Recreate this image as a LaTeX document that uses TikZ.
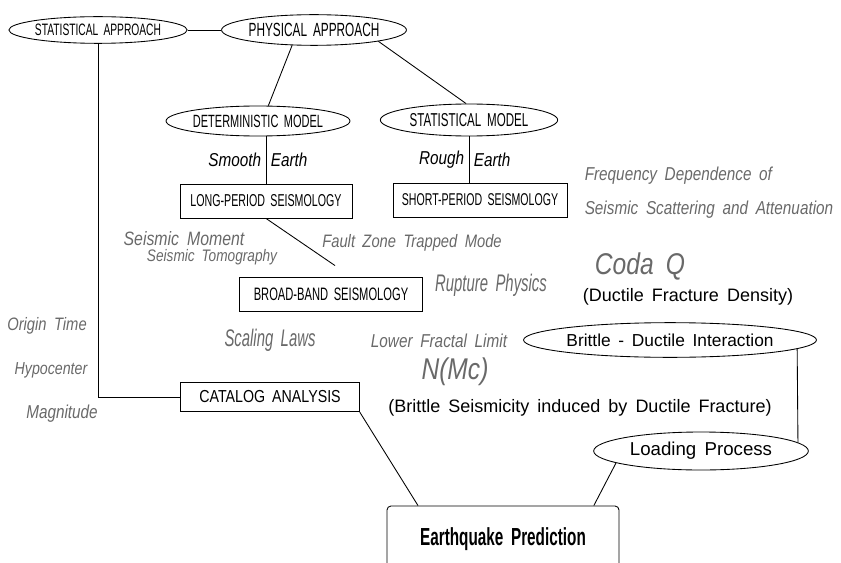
\documentclass[tikz,border=0pt]{standalone}
\usepackage{fontspec}
\setmainfont{Liberation Sans}[WordSpace=1.6]
\newfontfamily\narrowfont{Liberation Sans}[FakeStretch=0.62, WordSpace=1.8]
\newfontfamily\midfont{Liberation Sans}[FakeStretch=0.82, WordSpace=1.8]
\newcommand{\txtsize}[1]{\fontsize{#1}{#1}\selectfont}
\usepackage{tikz}
\usetikzlibrary{shapes.geometric, calc}
\definecolor{notegray}{RGB}{105,105,105}

\begin{document}
\begin{tikzpicture}[x=0.75pt, y=-0.75pt, line width=0.65pt,
  ovalnode/.style={ellipse, draw, inner sep=0pt},
  boxnode/.style={rectangle, draw, inner sep=0pt},
  grnote/.style={text=notegray, inner sep=1pt, font=\midfont\itshape\txtsize{#1}}, grnote/.default=14,
  earthtag/.style={font=\midfont\itshape\txtsize{14}},
  remark/.style={font=\txtsize{13.5}}]
\useasboundingbox (0,0) rectangle (841,563);
\node[ovalnode, minimum width=127.5pt, minimum height=20pt, font=\narrowfont\txtsize{12.4}] (sa) at (98,30) {STATISTICAL APPROACH};
\node[ovalnode, minimum width=124pt, minimum height=23pt, font=\narrowfont\txtsize{14.3}] (pa) at (314,30) {PHYSICAL APPROACH};
\node[ovalnode, minimum width=135pt, minimum height=22.5pt, font=\narrowfont\txtsize{13.3}] (dm) at (258,121) {DETERMINISTIC MODEL};
\node[ovalnode, minimum width=133pt, minimum height=24pt, font=\narrowfont\txtsize{14}] (sm) at (469,120) {STATISTICAL MODEL};
\node[boxnode, minimum width=129pt, minimum height=25.5pt, font=\narrowfont\txtsize{12.9}] (lp) at (266,201) {LONG-PERIOD SEISMOLOGY};
\node[boxnode, minimum width=130.5pt, minimum height=25.5pt, font=\narrowfont\txtsize{12.8}] (sp) at (480,200) {SHORT-PERIOD SEISMOLOGY};
\node[boxnode, minimum width=137pt, minimum height=25.5pt, font=\narrowfont\txtsize{13.5}] (bb) at (331,294) {BROAD-BAND SEISMOLOGY};
\node[boxnode, minimum width=134pt, minimum height=22pt, font=\midfont\txtsize{13}] (ca) at (270,397) {CATALOG ANALYSIS};
\node[boxnode, rounded corners=3pt, minimum width=174pt, minimum height=49.5pt, font=\narrowfont\bfseries\txtsize{18.5}] (ep) at (503,539) {Earthquake Prediction};
\node[ovalnode, minimum width=184.5pt, minimum height=26pt, font=\txtsize{13}] (bd) at (670,340) {Brittle - Ductile Interaction};
\node[ovalnode, minimum width=161pt, minimum height=28.5pt, font=\txtsize{14}] (lo) at (701,451) {Loading Process};
\coordinate (bbtip) at ($(bb.north)+(4,-11)$);
\draw (sa) -- (pa);
\draw (pa.215) -- (dm.56);
\draw (pa.-10) -- (sm.100);
\draw (lp.north |- dm.south) -- node[left, earthtag]{Smooth} node[right, earthtag]{Earth} (lp.north);
\draw (sm.south) -- node[left, earthtag]{Rough} node[right, earthtag]{Earth} (sm.south |- sp.north);
\draw (lp.south) -- (bbtip);
\draw (sa.south) |- (ca.west);
\draw (ca.south east) -- ($(ep.north west)!0.135!(ep.north east)$);
\draw ($(ep.north west)!0.89!(ep.north east)$) -- (lo.188);
\draw (bd.-4) -- (lo.5);
\node[grnote=14.5] (mom) at (184,239) {Seismic Moment};
\node[grnote=12.5] (tomo) at (212,257) {Seismic Tomography};
\node[grnote=13.5] (fz) at (412,243) {Fault Zone Trapped Mode};
\node[grnote, anchor=west] (freq) at (583,176) {Frequency Dependence of};
\node[grnote, anchor=west] (scat) at (583,210) {Seismic Scattering and Attenuation};
\node[grnote=22.5] (coda) at (640,266) {Coda Q};
\node[remark] (dens) at (688,297) {(Ductile Fracture Density)};
\node[grnote, font=\narrowfont\itshape\txtsize{18}] (rup) at (491,285) {Rupture Physics};
\node[grnote, font=\narrowfont\itshape\txtsize{18}] (scal) at (270,340) {Scaling Laws};
\node[grnote] (lfl) at (439,341) {Lower Fractal Limit};
\node[grnote=22.5] (nmc) at (455,372) {N(Mc)};
\node[remark] (bsi) at (580,408) {(Brittle Seismicity induced by Ductile Fracture)};
\node[grnote=13.5] (ot) at (47,326) {Origin Time};
\node[grnote=13] (hyp) at (51,370) {Hypocenter};
\node[grnote] (mag) at (62,414) {Magnitude};
\end{tikzpicture}
\end{document}
